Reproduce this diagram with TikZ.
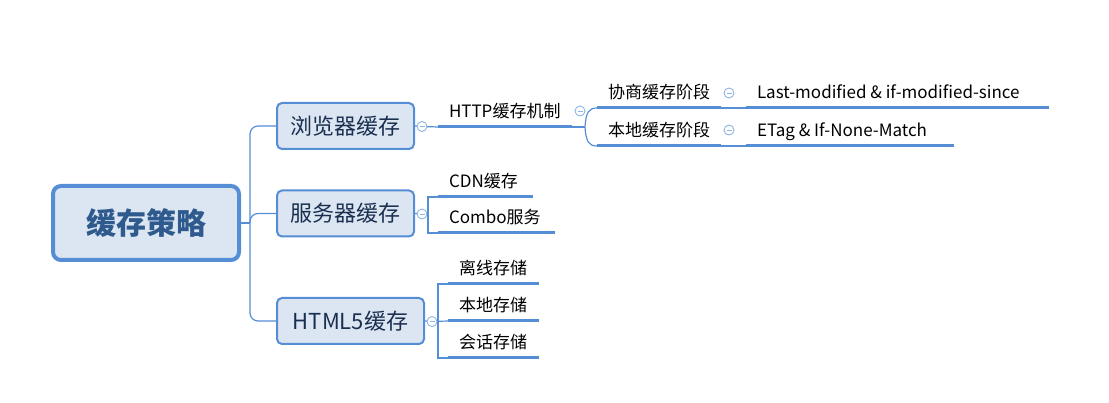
\documentclass[tikz,border=0pt]{standalone}
\usepackage{fontspec}
\setmainfont{Noto Sans CJK SC}
\definecolor{lineblue}{HTML}{558ED5}
\definecolor{boxfill}{HTML}{DCE6F2}
\definecolor{rootText}{HTML}{2E5A8E}
\definecolor{subText}{HTML}{1A2F4F}
\definecolor{togglec}{HTML}{8EB4E3}
\newcommand\lt[2]{\makebox[#1pt][l]{#2}}
\tikzset{
  rootbox/.style={draw=lineblue, line width=4, fill=boxfill, rounded corners=8,
    minimum width=186, minimum height=74, inner sep=0,
    font=\fontsize{30}{34}\selectfont\bfseries, text=rootText},
  subbox/.style={draw=lineblue, line width=2, fill=boxfill, rounded corners=5,
    minimum height=46, inner sep=0, font=\fontsize{22}{26}\selectfont, text=subText},
  leaf/.style={anchor=south west, inner xsep=11, inner ysep=6, text height=13,
    text depth=3.5, outer sep=0, font=\fontsize{17}{20}\selectfont, text=black},
  conn/.style={draw=lineblue, line width=1.2},
  uline/.style={draw=lineblue, line width=3},
  toggle/.style={circle, draw=togglec, fill=white, line width=0.9, minimum size=10,
    inner sep=0, outer sep=0,
    path picture={\draw[togglec, line width=0.9]
      ([xshift=-2.5]path picture bounding box.center) --
      ([xshift=2.5]path picture bounding box.center);}}
}
\begin{document}
\begin{tikzpicture}[x=1pt, y=-1pt]
\useasboundingbox (0,0) rectangle (1109,403);
% root and main branches
\node[rootbox] (root) at (146,223) {缓存策略};
\node[subbox, minimum width=137] (b1) at (345.5,126) {浏览器缓存};
\node[subbox, minimum width=137] (b2) at (345.5,213.5) {服务器缓存};
\node[subbox, minimum width=147] (b3) at (350.5,321) {HTML5缓存};
\coordinate (t) at (250,223);
\draw[conn] (root.east) -- (t);
\draw[conn, rounded corners=8] (t) |- (b1.west);
\draw[conn, rounded corners=8] (t) |- (b2.west);
\draw[conn, rounded corners=8] (t) |- (b3.west);

% browser branch
\node[toggle] (tg1) at (422,126.5) {};
\node[leaf] (http) at (438,127) {\lt{112}{HTTP缓存机制}};
\draw[conn] (b1.east) -- (tg1) -- (http.south west);
\draw[uline] (http.south west) -- (http.south east);
\node[toggle] (tgh) at (580,111) {};
\node[leaf] (xs) at (597,108) {\lt{102}{协商缓存阶段}};
\node[leaf] (bd) at (597,146) {\lt{102}{本地缓存阶段}};
\draw[uline] (xs.south west) -- (xs.south east);
\draw[uline] (bd.south west) -- (bd.south east);
\coordinate (sp) at (585,127);
\draw[conn] (http.south east) -- (sp);
\draw[conn] (sp) .. controls (586,112) and (589,108) .. (xs.south west);
\draw[conn] (sp) .. controls (586,142) and (589,146) .. (bd.south west);
\node[toggle] (tgx) at (729,93) {};
\node[toggle] (tgb) at (729,130) {};
\node[leaf] (lm) at (746,108) {\lt{281}{Last-modified \& if-modified-since}};
\node[leaf] (et) at (746,146) {\lt{186}{ETag \& If-None-Match}};
\draw[conn] (xs.south east) -- (lm.south west);
\draw[conn] (bd.south east) -- (et.south west);
\draw[uline] (lm.south west) -- (lm.south east);
\draw[uline] (et.south west) -- (et.south east);

% server branch
\node[toggle] (tg2) at (422,214) {};
\node[leaf] (cdn) at (438,197) {\lt{73}{CDN缓存}};
\node[leaf] (combo) at (438,233) {\lt{95}{Combo服务}};
\coordinate (br2) at (428,214);
\draw[conn] (b2.east) -- (tg2) -- (br2);
\draw[conn] (cdn.south west) -| (br2) |- (combo.south west);
\draw[uline] (cdn.south west) -- (cdn.south east);
\draw[uline] (combo.south west) -- (combo.south east);

% html5 branch
\node[toggle] (tg3) at (432,321.5) {};
\node[leaf] (lx) at (448,284) {\lt{69}{离线存储}};
\node[leaf] (bc) at (448,321) {\lt{69}{本地存储}};
\node[leaf] (hh) at (448,358) {\lt{69}{会话存储}};
\coordinate (br3) at (438,321);
\draw[conn] (b3.east) -- (tg3) -- (bc.south west);
\draw[conn] (lx.south west) -| (br3) |- (hh.south west);
\draw[uline] (lx.south west) -- (lx.south east);
\draw[uline] (bc.south west) -- (bc.south east);
\draw[uline] (hh.south west) -- (hh.south east);
\end{tikzpicture}
\end{document}
